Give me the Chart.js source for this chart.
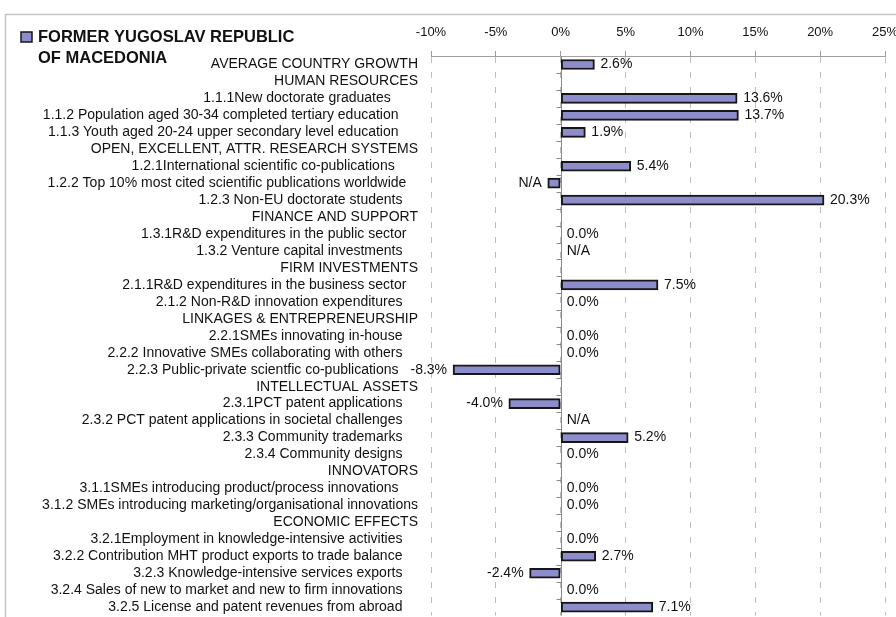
<!DOCTYPE html>
<html>
<head>
<meta charset="utf-8">
<script src="https://cdn.jsdelivr.net/npm/chart.js@4.4.0/dist/chart.umd.min.js"></script>
<style>
	html, body { margin: 0; padding: 0; background: #fff; overflow: hidden; }
	#wrap { width: 896px; height: 617px; overflow: hidden; }
	#growthChart { display: block; }
</style>
</head>
<body>
<div id="wrap"><canvas id="growthChart" width="910" height="617"></canvas></div>
<script>
	// 지표 이름 (section headers have no value, trailing spaces keep the original indent)
	let categories = [
		'AVERAGE COUNTRY GROWTH',
		'HUMAN RESOURCES',
		'1.1.1New doctorate graduates       ',
		'1.1.2 Population aged 30-34 completed tertiary education     ',
		'1.1.3 Youth aged 20-24 upper secondary level education     ',
		'OPEN, EXCELLENT, ATTR. RESEARCH SYSTEMS',
		'1.2.1International scientific co-publications      ',
		'1.2.2 Top 10% most cited scientific publications worldwide   ',
		'1.2.3 Non-EU doctorate students    ',
		'FINANCE AND SUPPORT',
		'1.3.1R&D expenditures in the public sector   ',
		'1.3.2 Venture capital investments    ',
		'FIRM INVESTMENTS',
		'2.1.1R&D expenditures in the business sector   ',
		'2.1.2 Non-R&D innovation expenditures    ',
		'LINKAGES & ENTREPRENEURSHIP',
		'2.2.1SMEs innovating in-house    ',
		'2.2.2 Innovative SMEs collaborating with others    ',
		'2.2.3 Public-private scientfic co-publications     ',
		'INTELLECTUAL ASSETS',
		'2.3.1PCT patent applications    ',
		'2.3.2 PCT patent applications in societal challenges    ',
		'2.3.3 Community trademarks    ',
		'2.3.4 Community designs    ',
		'INNOVATORS',
		'3.1.1SMEs introducing product/process innovations     ',
		'3.1.2 SMEs introducing marketing/organisational innovations',
		'ECONOMIC EFFECTS',
		'3.2.1Employment in knowledge-intensive activities    ',
		'3.2.2 Contribution MHT product exports to trade balance    ',
		'3.2.3 Knowledge-intensive services exports    ',
		'3.2.4 Sales of new to market and new to firm innovations    ',
		'3.2.5 License and patent revenues from abroad    '
	];

	// 성장률 (%), null = no bar
	let values = [
		2.6, null, 13.6, 13.7, 1.9, null, 5.4, -1.0, 20.3, null,
		0.0, null, null, 7.5, 0.0, null, 0.0, 0.0, -8.3, null,
		-4.0, null, 5.2, 0.0, null, 0.0, 0.0, null, 0.0, 2.7,
		-2.4, 0.0, 7.1
	];

	// rows reported as N/A
	let naRows = [7, 11, 21];

	// x axis range and step (%)
	let axisMin = -10;
	let axisMax = 25;
	let axisStep = 5;

	let countryName = ['FORMER YUGOSLAV REPUBLIC', 'OF MACEDONIA'];

	// 라벨 텍스트 (header rows stay empty)
	let valueTexts = values.map(function(v, i) {
		if (naRows.indexOf(i) >= 0) return 'N/A';
		if (v === null) return '';
		return v.toFixed(1) + '%';
	});

	const barFill = '#8d8dcb';
	const barBorder = '#161616';
	const textColor = '#111111';
	const fontFamily = "'Liberation Sans', Arial, sans-serif";

	// 외곽 프레임
	const framePlugin = {
		id: 'frame',
		beforeDraw: function(chart) {
			let ctx = chart.ctx;
			ctx.save();
			ctx.strokeStyle = '#c4c4c4';
			ctx.lineWidth = 1.5;
			ctx.beginPath();
			ctx.moveTo(5.5, chart.height + 10);
			ctx.lineTo(5.5, 14.5);
			ctx.lineTo(chart.width + 10, 14.5);
			ctx.stroke();
			ctx.restore();
		}
	};

	// 0% 기준선과 눈금
	const zeroLinePlugin = {
		id: 'zeroLine',
		beforeDatasetsDraw: function(chart) {
			let ctx = chart.ctx;
			let area = chart.chartArea;
			let x0 = Math.round(chart.scales.x.getPixelForValue(0)) + 0.5;
			let yScale = chart.scales.y;
			let step = (area.bottom - area.top) / categories.length;
			ctx.save();
			ctx.strokeStyle = '#8a8a8a';
			ctx.lineWidth = 1;
			ctx.beginPath();
			ctx.moveTo(x0, area.top);
			ctx.lineTo(x0, area.bottom);
			for (let i = 1; i < categories.length; i++) {
				let y = Math.round(yScale.getPixelForValue(i) - step / 2) + 0.5;
				ctx.moveTo(x0 - 5, y);
				ctx.lineTo(x0, y);
			}
			ctx.stroke();
			ctx.restore();
		}
	};

	// 막대 값 라벨
	const valueLabelPlugin = {
		id: 'valueLabels',
		afterDatasetsDraw: function(chart) {
			let ctx = chart.ctx;
			let meta = chart.getDatasetMeta(0);
			let x0 = chart.scales.x.getPixelForValue(0);
			ctx.save();
			ctx.font = '14px ' + fontFamily;
			ctx.fillStyle = textColor;
			ctx.textBaseline = 'middle';
			valueTexts.forEach(function(text, i) {
				if (!text) return;
				let bar = meta.data[i];
				let v = values[i];
				let y = chart.scales.y.getPixelForValue(i);
				if (v !== null && v < 0) {
					ctx.textAlign = 'right';
					ctx.fillText(text, bar.x - 6, y);
				} else if (v !== null && v > 0) {
					ctx.textAlign = 'left';
					ctx.fillText(text, bar.x + 6, y);
				} else {
					ctx.textAlign = 'left';
					ctx.fillText(text, x0 + 6, y);
				}
			});
			ctx.restore();
		}
	};

	// 범례 (two lines, top left)
	const legendPlugin = {
		id: 'countryLegend',
		afterDraw: function(chart) {
			let ctx = chart.ctx;
			ctx.save();
			ctx.fillStyle = barFill;
			ctx.strokeStyle = barBorder;
			ctx.lineWidth = 1.5;
			ctx.fillRect(21, 32, 11, 10);
			ctx.strokeRect(21, 32, 11, 10);
			ctx.font = 'bold 16.5px ' + fontFamily;
			ctx.fillStyle = '#111';
			ctx.textAlign = 'left';
			ctx.textBaseline = 'middle';
			ctx.fillText(countryName[0], 38, 37);
			ctx.fillText(countryName[1], 38, 58);
			ctx.restore();
		}
	};

	let chartData = {
		labels: categories,
		datasets: [
			{
				label: countryName.join(' '),
				data: values,
				backgroundColor: barFill,
				borderColor: barBorder,
				borderWidth: 2,
				borderSkipped: false,
				barThickness: 10
			}
		]
	};

	let chartOptions = {
		indexAxis: 'y',
		responsive: false,
		animation: false,
		layout: {
			padding: { left: 0, right: 25, top: 0, bottom: 1.4 }
		},
		plugins: {
			legend: { display: false },
			tooltip: { enabled: false }
		},
		scales: {
			x: {
				position: 'top',
				min: axisMin,
				max: axisMax,
				ticks: {
					stepSize: axisStep,
					padding: 11,
					color: textColor,
					font: { family: fontFamily, size: 13 },
					callback: function(v) { return v + '%'; }
				},
				grid: {
					color: '#bdbdbd',
					lineWidth: 1,
					tickLength: 5,
					tickColor: '#9a9a9a'
				},
				border: {
					display: true,
					color: '#a0a0a0',
					width: 1,
					dash: [6, 9]
				},
				afterFit: function(scale) { scale.height = 56; }
			},
			y: {
				position: 'left',
				grid: { display: false, drawTicks: false },
				border: { display: false },
				ticks: {
					autoSkip: false,
					padding: 13,
					color: textColor,
					font: { family: fontFamily, size: 14 }
				},
				afterFit: function(scale) {
					scale.width = 431;
					// 라벨 여백이 차트 영역을 줄이지 않도록
					scale.paddingTop = 0;
					scale.paddingBottom = 0;
				}
			}
		}
	};

	// 차트 생성
	let ctx = document.getElementById('growthChart').getContext('2d');
	let growthChart = new Chart(ctx, {
		type: 'bar',
		data: chartData,
		options: chartOptions,
		plugins: [framePlugin, zeroLinePlugin, valueLabelPlugin, legendPlugin]
	});
</script>
</body>
</html>
